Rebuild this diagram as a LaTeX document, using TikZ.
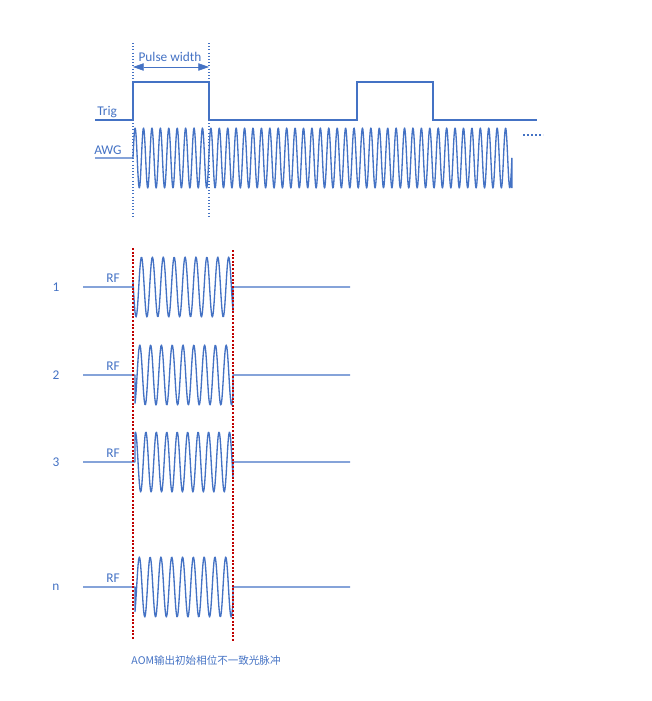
\documentclass[tikz,border=0pt]{standalone}
\usepackage{fontspec}
\setmainfont{Carlito}
\newfontfamily\cjkfont{Noto Sans CJK SC}
\usetikzlibrary{arrows.meta}
\definecolor{wavblue}{HTML}{4472C4}
\definecolor{gatered}{HTML}{C00000}
\tikzset{
	trace/.style={draw=wavblue,line width=.8pt},
	wave/.style={draw=wavblue,line width=1pt,line join=round},
	gate/.style={draw=wavblue,line width=.8pt,dash pattern=on .8pt off 1.6pt},
	redgate/.style={draw=gatered,line width=.8pt,dash pattern=on 1.5pt off 1.2pt},
	lbl/.style={text=wavblue,inner sep=0pt,font=\fontsize{10}{12}\selectfont}
}
\begin{document}
\begin{tikzpicture}[x=.75pt,y=-.75pt]
	\useasboundingbox (0,0) rectangle (652,701);
	% pulse width gates
	\coordinate (gA) at (133,43);
	\coordinate (gA') at (133,218);
	\coordinate (gB) at (209,43);
	\coordinate (gB') at (209,218);
	\draw[gate] (gA) -- (gA');
	\draw[gate] (gB) -- (gB');
	\coordinate (pwL) at (133,67);
	\coordinate (pwR) at (209,67);
	\draw[draw=wavblue,line width=.5pt,{Triangle[length=8pt,width=5.5pt]}-{Triangle[length=8pt,width=5.5pt]},wavblue] (pwL) -- (pwR);
	\node[lbl] (pw) at (170,57) {Pulse width};
	% trigger
	\node[lbl,anchor=west] (trig) at (97,112) {Trig};
	\coordinate (trigIn) at (95,120);
	\draw[trace] (trigIn) -- (133,120) |- (209,82) |- (357,120) |- (433,82) |- (537,120);
	% AWG
	\node[lbl,anchor=west] (awg) at (94,150) {AWG};
	\coordinate (awgIn) at (95,158);
	\draw[wave] (awgIn) -- (133,158) -- plot[domain=0:45,samples=1000] ({133+8.42*\x},{158-30*sin(360*frac(\x))}) -- ++(0,30);
	\draw[wavblue,line width=1.6pt,dash pattern=on 1.6pt off 1.4pt] (523,135) -- (543,135);
	% RF outputs
	\coordinate (rA) at (133,248);
	\coordinate (rA') at (133,640);
	\coordinate (rB) at (233,250);
	\coordinate (rB') at (233,642);
	\foreach \nm/\yy/\st/\ph/\per in {1/287/133/170/10.9,2/375/135/290/10.8,3/462/135/75/10.45,n/587/135/305/10.8}{
		\node[lbl] (num\nm) at (56,\yy) {\nm};
		\node[lbl] (rf\nm) at (113,\yy-9) {RF};
		\coordinate (in\nm) at (83,\yy);
		\coordinate (out\nm) at (350,\yy);
		\draw[wave] (in\nm) -- (\st,\yy) -- plot[domain=\st:233,samples=160] (\x,{\yy-30*sin(360/\per*(\x-\st)+\ph)}) -- (233,\yy) -- (out\nm);
	}
	\draw[redgate] (rA) -- (rA');
	\draw[redgate] (rB) -- (rB');
	\node[lbl,font=\cjkfont\fontsize{7.9}{9}\selectfont] (cap) at (206,660) {AOM输出初始相位不一致光脉冲};
\end{tikzpicture}
\end{document}
